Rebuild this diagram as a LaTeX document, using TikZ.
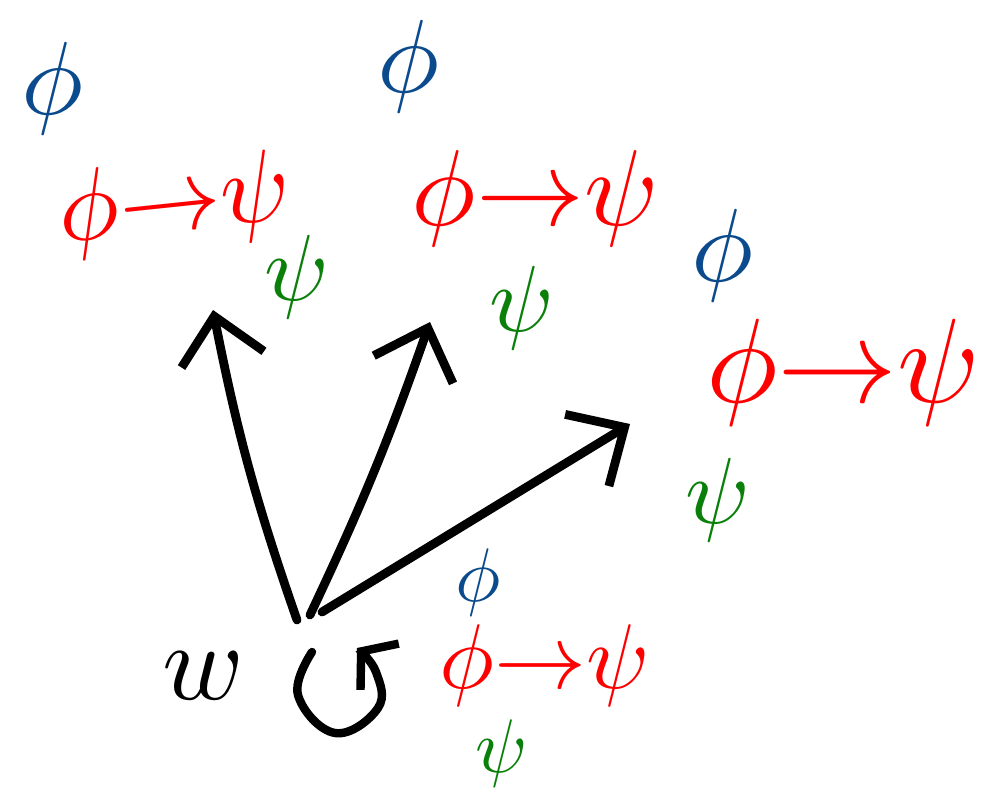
\documentclass[tikz,border=0pt]{standalone}
\usetikzlibrary{arrows.meta}
\definecolor{phiblue}{HTML}{0B4A8C}
\definecolor{impred}{HTML}{FF0000}
\definecolor{psigreen}{HTML}{0A800A}
\newcommand\myscaledmath[2]{\scalebox{#1}{$#2$}}
\begin{document}
\begin{tikzpicture}[x=0.5pt,y=-0.5pt,
  lab/.style={inner sep=0pt,font=\fontsize{10}{12}\selectfont},
  bluelab/.style={lab,text=phiblue},
  redlab/.style={lab,text=impred},
  greenlab/.style={lab,text=psigreen},
  reach/.style={line width=4.4pt,line cap=round,
    -{Straight Barb[length=22pt,width=42pt,line width=4.4pt]}},
  loopa/.style={line width=4.2pt,line cap=round,
    -{Straight Barb[length=12pt,width=30pt,line width=4.2pt]}}]
\useasboundingbox (0,0) rectangle (992,793);
% origin world
\node[lab] (w) at (203,676) {\myscaledmath{5.5}{w}};
\coordinate (o1) at (297,620);
\coordinate (o2) at (310,615);
\coordinate (o3) at (322,612);
\coordinate (t1) at (213,310);
\coordinate (t2) at (430,322);
\coordinate (t3) at (630,424);
\draw[reach] (o1) to[bend left=4] (t1);
\draw[reach] (o2) to[bend right=3] (t2);
\draw[reach] (o3) -- (t3);
% reflexive loop
\draw[loopa] plot[smooth,tension=0.7] coordinates {(312,652) (298,695) (335,733) (378,708) (376,672) (357,648)};
% world 1
\node[bluelab] (b1) at (52,88) {\myscaledmath{5.2}{\phi}};
\node[redlab,rotate=6] (r1) at (175,205) {\myscaledmath{5.1}{\phi{\to}\psi}};
\node[greenlab] (g1) at (297,277) {\myscaledmath{4.7}{\psi}};
% world 2
\node[bluelab] (b2) at (408,66) {\myscaledmath{5.2}{\phi}};
\node[redlab] (r2) at (535,198) {\myscaledmath{5.4}{\phi{\to}\psi}};
\node[greenlab] (g2) at (522,308) {\myscaledmath{4.7}{\psi}};
% world 3
\node[bluelab] (b3) at (722,255) {\myscaledmath{5.2}{\phi}};
\node[redlab] (r3) at (843,372) {\myscaledmath{6}{\phi{\to}\psi}};
\node[greenlab] (g3) at (718,500) {\myscaledmath{4.7}{\psi}};
% world w
\node[bluelab] (b0) at (478,582) {\myscaledmath{3.8}{\phi}};
\node[redlab] (r0) at (545,665) {\myscaledmath{4.6}{\phi{\to}\psi}};
\node[greenlab] (g0) at (502,753) {\myscaledmath{3.8}{\psi}};
\end{tikzpicture}
\end{document}
